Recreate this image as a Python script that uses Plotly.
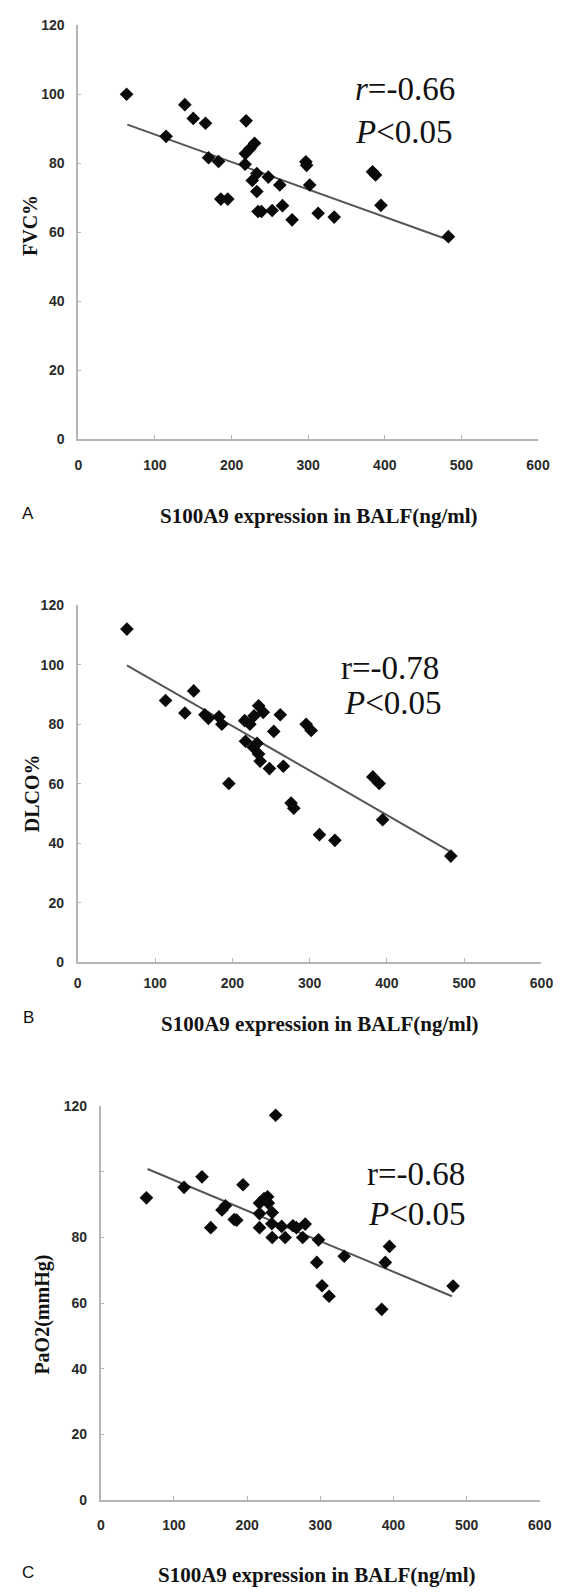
import plotly.graph_objects as go

W, H = 567, 1593

# ---------------- Data ----------------
x_ticks = [0, 100, 200, 300, 400, 500, 600]
y_ticks = [0, 20, 40, 60, 80, 100, 120]

# Panel A: FVC%
a_x = [63, 114.5, 139, 150, 166, 170, 183, 186, 195, 219, 218, 217.6, 224, 230, 227, 233,
       233, 234.5, 239, 248, 253, 263, 266.5, 279, 297, 298, 302, 313, 334, 384, 388, 395, 483]
a_y = [100, 87.8, 97, 93, 91.6, 81.6, 80.5, 69.6, 69.6, 92.3, 82.8, 79.7, 84.2, 85.8, 75, 77,
       71.8, 66, 66, 76, 66.3, 73.7, 67.7, 63.6, 80.4, 79.4, 73.7, 65.5, 64.4, 77.5, 76.6, 67.8, 58.7]
a_fit_x = [64, 482]
a_fit_y = [91.2, 57.9]

# Panel B: DLCO%
b_x = [63.6, 113.6, 138.6, 150, 164.5, 169, 182.7, 186.4, 195.5, 216, 217, 222.7, 228, 234, 240,
       227, 232, 234, 236, 248, 253.6, 262, 266, 276, 279.5, 295.5, 302, 312.7, 332.7, 381.8, 390,
       394.5, 482.7]
b_y = [112, 88, 83.8, 91.2, 83.2, 82, 82.5, 80, 60.1, 81.2, 74.3, 80, 82.8, 86.2, 84,
       72.3, 73.6, 70, 67.6, 65.1, 77.6, 83.2, 65.9, 53.5, 51.8, 80, 77.9, 42.9, 41, 62.3, 60.1,
       47.9, 35.7]
b_fit_x = [63.6, 481]
b_fit_y = [99.8, 37.4]

# Panel C: PaO2(mmHg)
c_x = [62.4, 113.8, 138.3, 150.3, 165.6, 170.4, 182.4, 185.8, 194.4, 217, 217, 217, 223.2, 228,
       229, 234.3, 233.8, 234.3, 239, 247.2, 252, 262.6, 267.4, 276, 279.4, 297.6, 295.2, 302.4,
       312, 332.7, 384, 388.9, 394.6, 481.5]
c_y = [92.1, 95.3, 98.5, 83, 88.4, 89.7, 85.5, 85.3, 96.1, 90.5, 87.3, 83, 91.9, 92.4,
       90.5, 87.6, 84.2, 80, 117.3, 83.4, 80, 83.6, 83, 80, 84.1, 79.3, 72.4, 65.3,
       62.1, 74.3, 58.1, 72.4, 77.3, 65.2]
c_fit_x = [63.9, 480]
c_fit_y = [100.9, 62.1]
c_y_ticktext = ["0", "20", "40", "60", "80", "", "120"]

x_title = "S100A9 expression in BALF(ng/ml)"
y_titles = ["FVC%", "DLCO%", "PaO2(mmHg)"]
stats = [("<i>r</i>=-0.66", "<i>P</i><0.05"),
         ("r=-0.78", "<i>P</i><0.05"),
         ("r=-0.68", "<i>P</i><0.05")]
letters = ["A", "B", "C"]


def px(x):
    return x / W


def py(y):
    return 1 - y / H


# pixel layout of each panel: (x_left, x_right, y_bottom, y_top)
boxes = [(76.5, 549.5, 435.5, 17.5), (75.9, 553.1, 964, 603.3), (99.6, 551.3, 1507, 1109.5)]
x_label_standoff = [12, 7, 11]

fig = go.Figure()
panels = [(a_x, a_y, a_fit_x, a_fit_y), (b_x, b_y, b_fit_x, b_fit_y), (c_x, c_y, c_fit_x, c_fit_y)]
for i, (xs, ys, fx, fy) in enumerate(panels):
    xa = "x" if i == 0 else f"x{i+1}"
    ya = "y" if i == 0 else f"y{i+1}"
    fig.add_trace(go.Scatter(x=fx, y=fy, mode="lines", xaxis=xa, yaxis=ya,
                             line=dict(color="#555555", width=2), showlegend=False,
                             hoverinfo="skip"))
    fig.add_trace(go.Scatter(x=xs, y=ys, mode="markers", xaxis=xa, yaxis=ya,
                             marker=dict(symbol="diamond", size=10.5, color="#0a0a0a"),
                             showlegend=False))

tickfont = dict(family="Liberation Sans", size=14, color="#2a2a2a")
layout = {}
for i, (xl, xr, yb, yt) in enumerate(boxes):
    xk = "xaxis" if i == 0 else f"xaxis{i+1}"
    yk = "yaxis" if i == 0 else f"yaxis{i+1}"
    ya_anchor = "y" if i == 0 else f"y{i+1}"
    xa_anchor = "x" if i == 0 else f"x{i+1}"
    layout[xk] = dict(domain=[px(xl), px(xr)], anchor=ya_anchor, range=[0, 600],
                      tickvals=x_ticks, ticktext=["<b>%d</b>" % t for t in x_ticks],
                      showline=True, linecolor="#b5b5b5", linewidth=2, showgrid=False,
                      zeroline=False, ticks="inside", ticklen=4, tickcolor="#b5b5b5",
                      tickfont=tickfont, ticklabelstandoff=x_label_standoff[i])
    yt_text = c_y_ticktext if i == 2 else [str(t) for t in y_ticks]
    layout[yk] = dict(domain=[py(yb), py(yt)], anchor=xa_anchor, range=[0, 120],
                      tickvals=y_ticks, ticktext=["<b>%s</b>" % s if s else "" for s in yt_text],
                      showline=True, linecolor="#b5b5b5", linewidth=2, showgrid=False,
                      zeroline=False, ticks="inside", ticklen=3, tickcolor="#b5b5b5",
                      tickfont=tickfont, ticklabelstandoff=9)

annotations = []
# text positions in pixels
xtitle_pos = [(324, 513), (325, 1026.7), (322, 1583)]
ytitle_pos = [(27, 220), (29, 793), (40, 1320)]
letter_pos = [(25, 510.7), (25, 1020), (25, 1580)]
stat_pos = [((413, 81.7), (412, 125)), ((397.5, 666.7), (400, 701.7)), ((424, 1177.6), (425, 1218))]
serif_bold = dict(family="Liberation Serif", size=21, color="#111111")
for i in range(3):
    annotations.append(dict(x=px(xtitle_pos[i][0]), y=py(xtitle_pos[i][1]), xref="paper", yref="paper",
                            text="<b>" + x_title + "</b>", showarrow=False, font=serif_bold,
                            xanchor="center", yanchor="middle"))
    annotations.append(dict(x=px(ytitle_pos[i][0]), y=py(ytitle_pos[i][1]), xref="paper", yref="paper",
                            text="<b>" + y_titles[i] + "</b>", showarrow=False, textangle=-90,
                            font=dict(family="Liberation Serif", size=20, color="#111111"),
                            xanchor="center", yanchor="middle"))
    annotations.append(dict(x=px(letter_pos[i][0]), y=py(letter_pos[i][1]), xref="paper", yref="paper",
                            text=letters[i], showarrow=False,
                            font=dict(family="Liberation Sans", size=17, color="#111111"),
                            xanchor="center", yanchor="middle"))
    for j in range(2):
        annotations.append(dict(x=px(stat_pos[i][j][0]), y=py(stat_pos[i][j][1]), xref="paper", yref="paper",
                                text=stats[i][j], showarrow=False,
                                font=dict(family="Liberation Serif", size=33, color="#111111"),
                                xanchor="center", yanchor="middle"))

fig.update_layout(width=W, height=H, margin=dict(l=0, r=0, t=0, b=0),
                  paper_bgcolor="white", plot_bgcolor="white",
                  annotations=annotations, **layout)

fig.write_html("out.html")
